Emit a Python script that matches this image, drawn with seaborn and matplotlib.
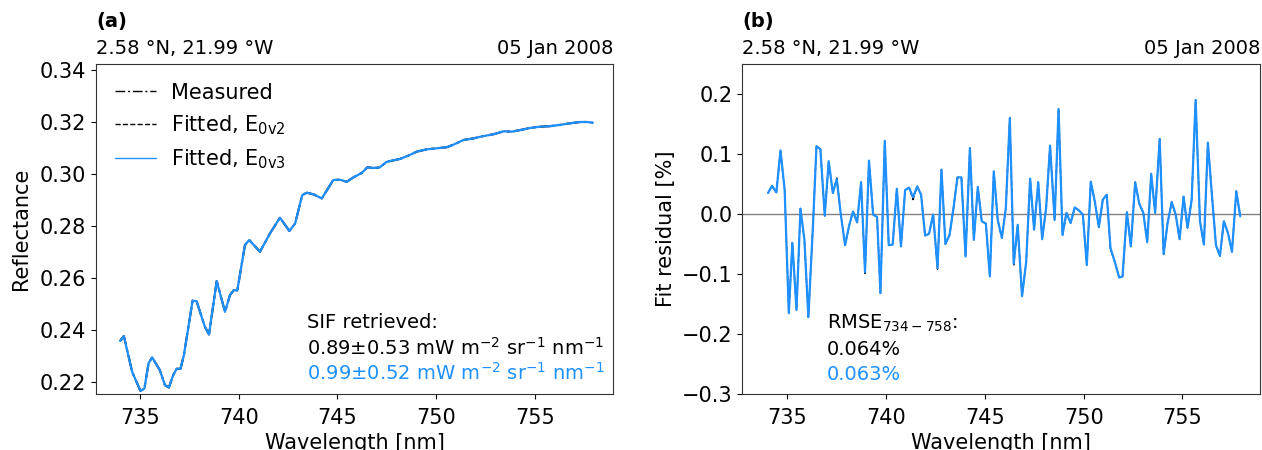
import numpy as np
import pandas as pd
import matplotlib
matplotlib.use("Agg")
import matplotlib.pyplot as plt
import seaborn as sns

# ---------------- data ----------------
wl_refl = [734.00, 734.19, 734.61, 735.03, 735.23, 735.44, 735.62, 736.01, 736.27, 736.47,
           736.69, 736.86, 737.06, 737.23, 737.67, 737.87, 738.29, 738.50, 738.89, 739.31,
           739.56, 739.76, 739.93, 740.32, 740.54, 741.08, 741.59, 742.09, 742.57, 742.86,
           743.22, 743.45, 743.78, 744.21, 744.79, 745.13, 745.47, 745.81, 746.23, 746.52,
           746.82, 747.13, 747.50, 748.17, 748.60, 749.02, 749.53, 750.04, 750.54, 750.88,
           751.39, 751.89, 752.40, 752.91, 753.41, 753.84, 754.25, 754.76, 755.27, 755.77,
           756.28, 756.78, 757.29, 757.63, 757.93]
refl_measured = [0.2357, 0.2376, 0.2238, 0.2165, 0.2174, 0.2271, 0.2294, 0.2245, 0.2187, 0.2178,
                 0.2226, 0.2250, 0.2250, 0.2303, 0.2512, 0.2510, 0.2412, 0.2382, 0.2587, 0.2469,
                 0.2533, 0.2553, 0.2550, 0.2726, 0.2745, 0.2700, 0.2771, 0.2831, 0.2780, 0.2809,
                 0.2918, 0.2927, 0.2921, 0.2905, 0.2976, 0.2977, 0.2969, 0.2986, 0.3003, 0.3025,
                 0.3022, 0.3024, 0.3046, 0.3057, 0.3070, 0.3085, 0.3094, 0.3098, 0.3102, 0.3112,
                 0.3130, 0.3136, 0.3145, 0.3152, 0.3163, 0.3162, 0.3168, 0.3176, 0.3181, 0.3183,
                 0.3188, 0.3194, 0.3199, 0.3199, 0.3196]
refl_fit_v2 = list(refl_measured)
refl_fit_v3 = list(refl_measured)

wl_res = [734.02, 734.22, 734.44, 734.65, 734.86, 735.07, 735.25, 735.46, 735.66, 735.86,
          736.06, 736.30, 736.47, 736.67, 736.89, 737.09, 737.30, 737.50, 737.70, 737.92,
          738.12, 738.32, 738.53, 738.73, 738.93, 739.13, 739.34, 739.54, 739.71, 739.93,
          740.13, 740.33, 740.54, 740.75, 740.96, 741.16, 741.36, 741.57, 741.77, 741.97,
          742.17, 742.38, 742.60, 742.80, 743.00, 743.21, 743.41, 743.61, 743.81, 744.02,
          744.24, 744.44, 744.64, 744.84, 745.05, 745.25, 745.45, 745.65, 745.86, 746.06,
          746.26, 746.46, 746.66, 746.88, 747.09, 747.29, 747.49, 747.70, 747.90, 748.10,
          748.30, 748.53, 748.73, 748.93, 749.13, 749.34, 749.55, 749.76, 749.96, 750.16,
          750.36, 750.57, 750.77, 750.97, 751.17, 751.36, 751.58, 751.80, 751.97, 752.19,
          752.39, 752.61, 752.81, 753.02, 753.22, 753.42, 753.62, 753.85, 754.05, 754.25,
          754.46, 754.66, 754.86, 755.06, 755.26, 755.47, 755.67, 755.89, 756.09, 756.29,
          756.50, 756.70, 756.90, 757.10, 757.31, 757.51, 757.73, 757.93]
res_v3 = [0.035, 0.047, 0.036, 0.106, 0.040, -0.165, -0.048, -0.160, 0.009, -0.043,
          -0.172, -0.015, 0.113, 0.108, -0.003, 0.088, 0.035, 0.058, 0.000, -0.052,
          -0.020, 0.004, -0.014, 0.053, -0.097, 0.089, -0.001, -0.005, -0.132, 0.122,
          -0.052, -0.051, 0.042, -0.054, 0.040, 0.044, 0.028, 0.046, 0.032, -0.036,
          -0.033, -0.001, -0.090, 0.074, -0.050, -0.035, 0.010, 0.061, 0.061, -0.071,
          0.110, -0.043, 0.045, -0.012, -0.016, -0.104, 0.071, -0.010, -0.040, 0.010,
          0.160, -0.083, -0.018, -0.137, -0.080, 0.059, -0.026, 0.053, -0.042, 0.010,
          0.114, -0.010, 0.175, -0.035, 0.002, -0.015, 0.011, 0.006, -0.001, -0.085,
          0.054, 0.020, -0.022, 0.024, 0.032, -0.057, -0.080, -0.106, -0.104, 0.003,
          -0.054, 0.053, 0.018, 0.002, -0.047, 0.067, 0.002, 0.125, -0.067, -0.015,
          0.020, -0.001, -0.042, 0.029, -0.023, 0.024, 0.190, -0.012, -0.051, 0.119,
          0.030, -0.052, -0.070, -0.012, -0.032, -0.063, 0.038, -0.004]
res_v2 = [0.035, 0.047, 0.036, 0.106, 0.040, -0.165, -0.048, -0.160, 0.009, -0.043,
          -0.172, -0.015, 0.113, 0.108, -0.003, 0.088, 0.035, 0.060, 0.000, -0.052,
          -0.020, 0.004, -0.014, 0.053, -0.099, 0.089, -0.001, -0.005, -0.132, 0.122,
          -0.052, -0.051, 0.042, -0.054, 0.040, 0.044, 0.024, 0.046, 0.032, -0.036,
          -0.033, -0.001, -0.092, 0.074, -0.050, -0.035, 0.010, 0.061, 0.061, -0.071,
          0.110, -0.043, 0.045, -0.012, -0.016, -0.104, 0.071, -0.010, -0.040, 0.010,
          0.160, -0.085, -0.018, -0.137, -0.080, 0.059, -0.026, 0.053, -0.042, 0.010,
          0.114, -0.010, 0.175, -0.035, 0.002, -0.015, 0.011, 0.006, -0.001, -0.085,
          0.054, 0.020, -0.022, 0.024, 0.032, -0.059, -0.080, -0.106, -0.104, 0.003,
          -0.054, 0.053, 0.018, 0.002, -0.047, 0.067, 0.002, 0.125, -0.067, -0.015,
          0.020, -0.001, -0.042, 0.029, -0.023, 0.024, 0.190, -0.012, -0.051, 0.119,
          0.030, -0.052, -0.070, -0.012, -0.032, -0.063, 0.038, -0.004]

refl_yticks = [0.22, 0.24, 0.26, 0.28, 0.30, 0.32, 0.34]
res_yticks = [-0.3, -0.2, -0.1, 0.0, 0.1, 0.2]
x_ticks = [735, 740, 745, 750, 755]

location = "2.58 °N, 21.99 °W"
date = "05 Jan 2008"
sif_v2 = r"0.89$\pm$0.53 mW m$^{-2}$ sr$^{-1}$ nm$^{-1}$"
sif_v3 = r"0.99$\pm$0.52 mW m$^{-2}$ sr$^{-1}$ nm$^{-1}$"
rmse_v2 = "0.064%"
rmse_v3 = "0.063%"

BLUE = "#1E90FF"

# ---------------- style ----------------
sns.set_style("ticks")
plt.rcParams["font.family"] = ["DejaVu Sans"]
plt.rcParams["mathtext.fontset"] = "dejavusans"
plt.rcParams.update({
    "xtick.major.size": 3.5, "ytick.major.size": 3.5,
    "xtick.major.width": 0.8, "ytick.major.width": 0.8,
    "xtick.major.pad": 6.5,
    "axes.linewidth": 0.8,
    "axes.edgecolor": "#333333",
    "text.color": "black", "axes.labelcolor": "black",
    "xtick.color": "black", "ytick.color": "black",
})

fig = plt.figure(figsize=(12.62, 4.50), dpi=100)
axA = fig.add_axes([96 / 1262, 56 / 450, 517 / 1262, 330 / 450])
axB = fig.add_axes([742 / 1262, 56 / 450, 518 / 1262, 330 / 450])

df_refl = pd.DataFrame({"wl": wl_refl, "meas": refl_measured,
                        "v2": refl_fit_v2, "v3": refl_fit_v3})
df_res = pd.DataFrame({"wl": wl_res, "v2": res_v2, "v3": res_v3})

# ---- panel (a)
sns.lineplot(data=df_refl, x="wl", y="meas", ax=axA, color="black", lw=1.5,
             linestyle=(0, (7, 2, 1.5, 2)), sort=False, estimator=None, label="Measured")
sns.lineplot(data=df_refl, x="wl", y="v2", ax=axA, color="black", lw=0.9,
             linestyle="--", sort=False, estimator=None, label=r"Fitted, E$_{\rm 0v2}$")
sns.lineplot(data=df_refl, x="wl", y="v3", ax=axA, color=BLUE, lw=1.6,
             sort=False, estimator=None, label=r"Fitted, E$_{\rm 0v3}$")
axA.set_xlim(732.78, 758.95)
axA.set_ylim(0.2153, 0.3422)
axA.set_yticks(refl_yticks)
axA.set_xticks(x_ticks)
leg = axA.legend(loc="upper left", frameon=False, fontsize=15, handlelength=2.0,
                 handletextpad=0.7)
for h in leg.legend_handles:
    h.set_linewidth(1.0)
axA.set_xlabel("Wavelength [nm]", fontsize=15)
axA.set_ylabel("Reflectance", fontsize=15, labelpad=6)
axA.tick_params(labelsize=15)
axA.text(0.408, 0.218, "SIF retrieved:", transform=axA.transAxes, fontsize=14, va="center")
axA.text(0.408, 0.140, sif_v2, transform=axA.transAxes, fontsize=14, va="center", color="black")
axA.text(0.408, 0.064, sif_v3, transform=axA.transAxes, fontsize=14, va="center", color=BLUE)

# ---- panel (b)
axB.axhline(0.0, color="gray", lw=1.0, zorder=1)
sns.lineplot(data=df_res, x="wl", y="v2", ax=axB, color="black", lw=1.0,
             linestyle="--", sort=False, estimator=None)
sns.lineplot(data=df_res, x="wl", y="v3", ax=axB, color=BLUE, lw=1.6,
             sort=False, estimator=None)
axB.set_xlim(732.70, 758.93)
axB.set_ylim(-0.3, 0.25)
axB.set_yticks(res_yticks)
axB.set_xticks(x_ticks)
axB.set_xlabel("Wavelength [nm]", fontsize=15)
axB.set_ylabel("Fit residual [%]", fontsize=15)
axB.tick_params(labelsize=15)
axB.text(0.164, 0.215, r"RMSE$_{734-758}$:", transform=axB.transAxes, fontsize=14, va="center")
axB.text(0.164, 0.136, rmse_v2, transform=axB.transAxes, fontsize=14, va="center", color="black")
axB.text(0.164, 0.058, rmse_v3, transform=axB.transAxes, fontsize=14, va="center", color=BLUE)

for ax, tag in ((axA, "(a)"), (axB, "(b)")):
    ax.text(0.0, 1.112, tag, transform=ax.transAxes, fontsize=14, fontweight="bold",
            va="baseline", ha="left")
    ax.text(0.0, 1.030, location, transform=ax.transAxes, fontsize=14, va="baseline", ha="left")
    ax.text(1.0, 1.030, date, transform=ax.transAxes, fontsize=14, va="baseline", ha="right")

fig.savefig("out.png", dpi=100)
